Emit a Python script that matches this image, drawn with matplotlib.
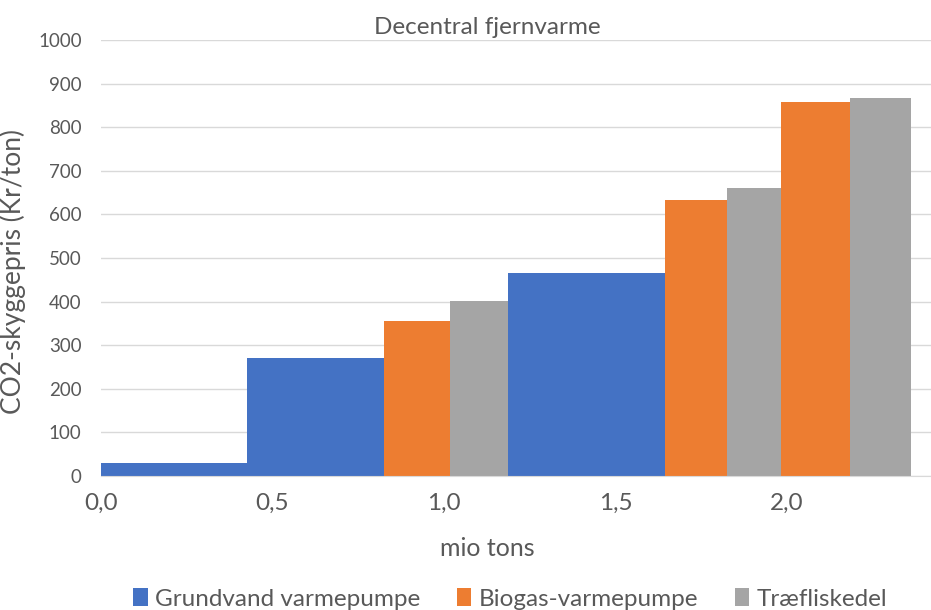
import numpy as np
from matplotlib import pyplot as plt
from matplotlib.patches import Patch

# abatement steps, ordered by price
technologies = ["Grundvand varmepumpe", "Grundvand varmepumpe", "Biogas-varmepumpe",
                "Træfliskedel", "Grundvand varmepumpe", "Biogas-varmepumpe",
                "Træfliskedel", "Biogas-varmepumpe", "Træfliskedel"]
amounts = [0.426, 0.399, 0.192, 0.169, 0.459, 0.179, 0.160, 0.200, 0.177]  # mio tons
prices = [30, 271, 356, 402, 465, 634, 661, 858, 868]  # Kr/ton

legend_order = ["Grundvand varmepumpe", "Biogas-varmepumpe", "Træfliskedel"]
colors = {"Grundvand varmepumpe": "#4472C4",
          "Biogas-varmepumpe": "#ED7D31",
          "Træfliskedel": "#A5A5A5"}

plt.rcParams["font.family"] = ["Lato", "DejaVu Sans"]
text_color = "#595959"

fig = plt.figure(figsize=(9.31, 6.10), dpi=100)
ax = fig.add_axes([0.1085, 0.2197, 0.8915, 0.7147])

lefts = np.concatenate([[0], np.cumsum(amounts)[:-1]])
ax.bar(lefts, prices, width=amounts, align="edge",
       color=[colors[t] for t in technologies], linewidth=0, zorder=2)

ax.set_xlim(0, 2.42)
ax.set_ylim(0, 1000)
ax.set_yticks(np.arange(0, 1001, 100))
ax.set_xticks([0, 0.5, 1.0, 1.5, 2.0])
ax.set_xticklabels(["0,0", "0,5", "1,0", "1,5", "2,0"])
ax.tick_params(axis="x", length=0, pad=12, labelsize=17.5, colors=text_color)
ax.tick_params(axis="y", length=0, pad=14, labelsize=13.5, colors=text_color)
ax.grid(axis="y", color="#D9D9D9", linewidth=1, zorder=0)
for side in ["top", "right", "left"]:
    ax.spines[side].set_visible(False)
ax.spines["bottom"].set_color("#D9D9D9")

ax.set_ylabel("CO2-skyggepris (Kr/ton)", fontsize=19, color=text_color)
ax.yaxis.set_label_coords(-0.09, 0.47)
fig.text(0.523, 0.955, "Decentral fjernvarme", ha="center", va="center",
         fontsize=17.5, color=text_color)
fig.text(0.523, 0.10, "mio tons", ha="center", va="center",
         fontsize=18, color=text_color)

handles = [Patch(facecolor=colors[t], label=t) for t in legend_order]
fig.legend(handles=handles, loc="center", bbox_to_anchor=(0.548, 0.018), ncol=3,
           frameon=False, fontsize=17.5, handlelength=0.6, handleheight=0.75,
           handletextpad=0.3, columnspacing=1.5, labelcolor=text_color)

plt.savefig("out.png", dpi=100)
